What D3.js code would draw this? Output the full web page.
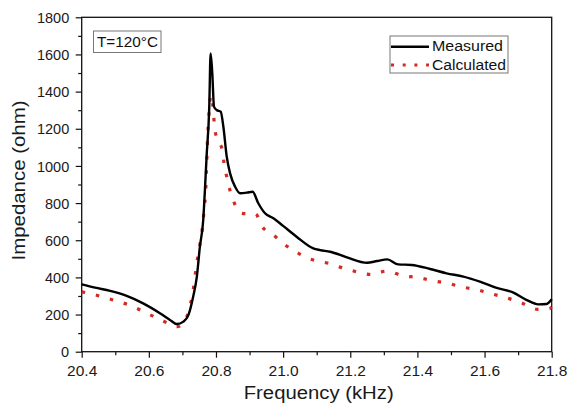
<!DOCTYPE html>
<html>
<head>
<meta charset="utf-8">
<script src="https://cdn.jsdelivr.net/npm/d3@7"></script>
<style>
  body { margin: 0; background: #fff; }
  svg { display: block; font-family: "Liberation Sans", Arial, sans-serif; }
</style>
</head>
<body>
<div id="chart"></div>
<script>
// Measured impedance (black solid line)
const measFreq = [20.40, 20.44, 20.485, 20.534, 20.583, 20.633, 20.663, 20.683, 20.703, 20.718, 20.732, 20.743,
  20.752, 20.762, 20.767, 20.772, 20.780, 20.784, 20.789, 20.794, 20.802, 20.814, 20.822, 20.832, 20.842,
  20.857, 20.872, 20.892, 20.909, 20.926, 20.946, 20.971, 21.00, 21.04, 21.09, 21.11, 21.14, 21.19, 21.25,
  21.28, 21.31, 21.343, 21.383, 21.438, 21.487, 21.537, 21.586, 21.636, 21.686, 21.726, 21.76, 21.785, 21.80];
const measZ = [363, 345, 327, 300, 260, 207, 171, 149, 162, 198, 296, 404,
  565, 709, 870, 1050, 1319, 1606, 1498, 1319, 1301, 1292, 1211, 1050, 960,
  888, 853, 856, 861, 799, 745, 718, 677, 619, 556, 547, 538, 508, 479,
  488, 497, 470, 467, 445, 422, 404, 377, 344, 318, 278, 255, 257, 282];

// Calculated impedance (red dotted line)
const calcFreq = [20.40, 20.432, 20.477, 20.521, 20.564, 20.601, 20.641, 20.685, 20.713, 20.725, 20.732, 20.743,
  20.750, 20.757, 20.762, 20.765, 20.769, 20.772, 20.775, 20.780, 20.784, 20.792, 20.795, 20.802, 20.819,
  20.824, 20.832, 20.842, 20.855, 20.878, 20.918, 20.938, 20.971, 21.00, 21.04, 21.083, 21.128, 21.172,
  21.217, 21.262, 21.309, 21.356, 21.40, 21.446, 21.49, 21.537, 21.581, 21.626, 21.671, 21.714, 21.758, 21.793, 21.80];
const calcZ = [322, 310, 287, 264, 233, 201, 167, 135, 188, 264, 332, 479,
  556, 632, 709, 780, 852, 1000, 1149, 1301, 1380, 1301, 1224, 1152, 1086,
  1014, 942, 867, 799, 745, 741, 673, 628, 583, 535, 497, 479, 454,
  431, 416, 434, 409, 400, 382, 368, 347, 332, 309, 287, 260, 228, 232, 240];

const xTicks = [20.4, 20.6, 20.8, 21.0, 21.2, 21.4, 21.6, 21.8];
const xMinor = [20.5, 20.7, 20.9, 21.1, 21.3, 21.5, 21.7];
const yTicks = [0, 200, 400, 600, 800, 1000, 1200, 1400, 1600, 1800];
const yMinor = [100, 300, 500, 700, 900, 1100, 1300, 1500, 1700];
const seriesNames = ["Measured", "Calculated"];

const width = 568, height = 403;
const margin = { left: 81.7, right: 16.3, top: 17.3, bottom: 51.3 };

const svg = d3.select('#chart').append('svg')
  .attr('width', width)
  .attr('height', height);

const x = d3.scaleLinear().domain([20.4, 21.8]).range([margin.left, width - margin.right]);
const y = d3.scaleLinear().domain([0, 1800]).range([height - margin.bottom, margin.top]);

// frame
svg.append('rect')
  .attr('x', x(20.4)).attr('y', y(1800))
  .attr('width', x(21.8) - x(20.4)).attr('height', y(0) - y(1800))
  .attr('fill', 'none').attr('stroke', '#111').attr('stroke-width', 1.3);

// x axis
const xAxis = svg.append('g')
  .attr('transform', `translate(0,${y(0)})`)
  .call(d3.axisBottom(x).tickValues(xTicks).tickSize(6).tickSizeOuter(0).tickFormat(d3.format('.1f')));
svg.append('g')
  .attr('transform', `translate(0,${y(0)})`)
  .call(d3.axisBottom(x).tickValues(xMinor).tickSize(3.5).tickSizeOuter(0).tickFormat(''));

// y axis
const yAxis = svg.append('g')
  .attr('transform', `translate(${x(20.4)},0)`)
  .call(d3.axisLeft(y).tickValues(yTicks).tickSize(6).tickSizeOuter(0).tickFormat(d3.format('d')));
svg.append('g')
  .attr('transform', `translate(${x(20.4)},0)`)
  .call(d3.axisLeft(y).tickValues(yMinor).tickSize(3.5).tickSizeOuter(0).tickFormat(''));

svg.selectAll('.domain').remove();
svg.selectAll('.tick line').attr('stroke', '#111').attr('stroke-width', 1.2);

xAxis.selectAll('.tick text')
  .attr('y', 10).attr('dy', '0.9em')
  .attr('font-size', 15.5).attr('fill', '#1a1a1a');
yAxis.selectAll('.tick text')
  .attr('x', -12.5).attr('dy', '0.35em')
  .attr('font-size', 14.5).attr('fill', '#1a1a1a');

// axis titles
svg.append('text')
  .attr('x', (x(20.4) + x(21.8)) / 2 + 2).attr('y', 399)
  .attr('text-anchor', 'middle')
  .attr('font-size', 17.5).attr('fill', '#1a1a1a')
  .attr('textLength', 150).attr('lengthAdjust', 'spacingAndGlyphs')
  .text('Frequency (kHz)');

svg.append('text')
  .attr('transform', `translate(25,${(y(0) + y(1800)) / 2 - 4}) rotate(-90)`)
  .attr('text-anchor', 'middle')
  .attr('font-size', 17.5).attr('fill', '#1a1a1a')
  .attr('textLength', 160).attr('lengthAdjust', 'spacingAndGlyphs')
  .text('Impedance (ohm)');

// lines
const meas = measFreq.map((f, i) => [f, measZ[i]]);
const calc = calcFreq.map((f, i) => [f, calcZ[i]]);
const line = d3.line().x(d => x(d[0])).y(d => y(d[1])).curve(d3.curveMonotoneX);

svg.append('path')
  .attr('d', line(calc))
  .attr('fill', 'none')
  .attr('stroke', '#d42a24')
  .attr('stroke-width', 3.2)
  .attr('stroke-dasharray', '3.5,11');

svg.append('path')
  .attr('d', line(meas))
  .attr('fill', 'none')
  .attr('stroke', '#000')
  .attr('stroke-width', 2.4)
  .attr('stroke-linejoin', 'round');

// label box T=120°C
svg.append('rect')
  .attr('x', 93.5).attr('y', 31).attr('width', 67.5).attr('height', 21.5)
  .attr('fill', '#fff').attr('stroke', '#777').attr('stroke-width', 1);
svg.append('text')
  .attr('x', 97).attr('y', 46.7)
  .attr('font-size', 14.5).attr('fill', '#111')
  .attr('textLength', 61).attr('lengthAdjust', 'spacingAndGlyphs')
  .text('T=120°C');

// legend
const legend = svg.append('g');
legend.append('rect')
  .attr('x', 390).attr('y', 36).attr('width', 118).attr('height', 37)
  .attr('fill', '#fff').attr('stroke', '#777').attr('stroke-width', 1);
const legStyles = [
  { stroke: '#000', width: 2.4, dash: null, y: 46.7, len: 71 },
  { stroke: '#d42a24', width: 3, dash: '3,8.7', y: 65, len: 74 }
];
seriesNames.forEach((name, i) => {
  const s = legStyles[i];
  legend.append('line')
    .attr('x1', 391).attr('x2', 429).attr('y1', s.y).attr('y2', s.y)
    .attr('stroke', s.stroke).attr('stroke-width', s.width)
    .attr('stroke-dasharray', s.dash);
  legend.append('text')
    .attr('x', 432).attr('y', s.y + 4.5)
    .attr('font-size', 14).attr('fill', '#111')
    .attr('textLength', s.len).attr('lengthAdjust', 'spacingAndGlyphs')
    .text(name);
});
</script>
</body>
</html>
